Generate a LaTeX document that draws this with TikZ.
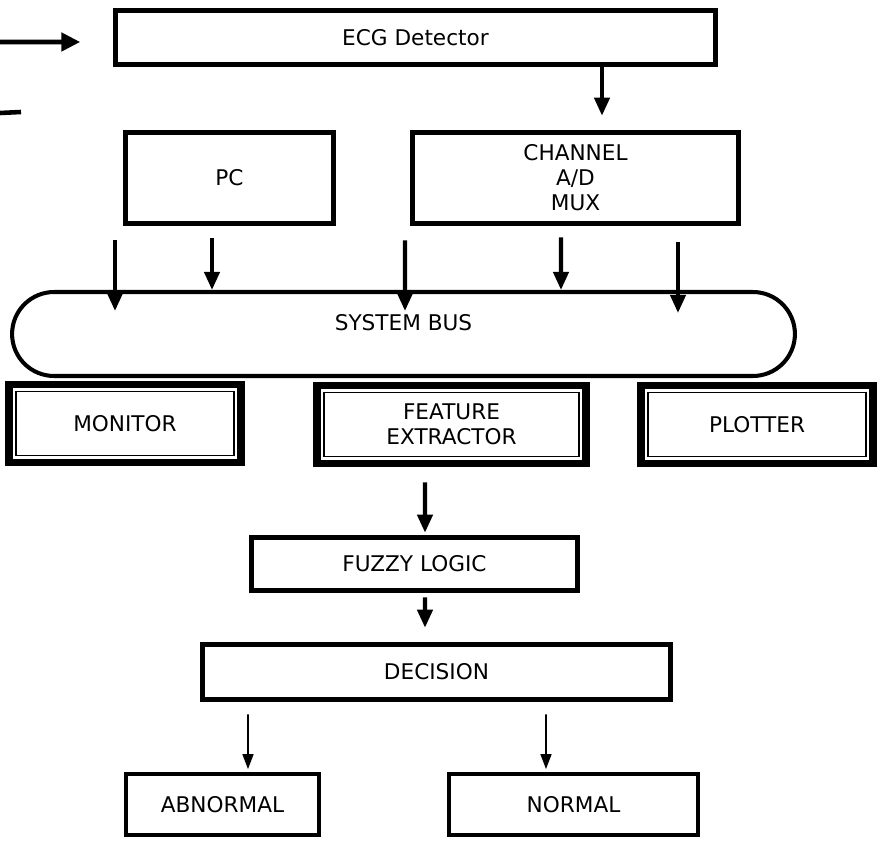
\documentclass[tikz,border=0pt]{standalone}
\usepackage{fontspec}
\setmainfont{DejaVu Sans}
\usetikzlibrary{arrows.meta,
                calc,
                positioning}

\begin{document}
\begin{tikzpicture}[
     x = 0.02cm, y = -0.02cm,
   box/.style = {rectangle, draw, line width=2.6pt, inner sep=0pt,
                 align=center, font=\fontsize{12.3}{14.2}\selectfont},
  fbox/.style = {box, line width=4.5pt,
                 minimum width=4.64cm, minimum height=1.56cm},
   bus/.style = {rectangle, draw, line width=2.3pt, rounded corners=0.84cm,
                 minimum width=15.66cm, minimum height=1.68cm},
   arr/.style = {line width=2.3pt, -{Triangle[length=0.36cm, width=0.3cm]}},
  tarr/.style = {line width=0.9pt, -{Triangle[length=0.3cm, width=0.22cm]}},
                        ]
\useasboundingbox (0,0) rectangle (883,841);
% top row
\node[box, minimum width=12cm, minimum height=1.08cm]   (ecg)  at (415.5,37.5) {ECG Detector};
\node[box, minimum width=4.16cm, minimum height=1.82cm] (pc)   at (229.5,178)  {PC};
\node[box, minimum width=6.52cm, minimum height=1.82cm] (adc)  at (575.5,178)  {CHANNEL\\A/D\\MUX};
% bus
\node[bus, label={[yshift=0.22cm, font=\fontsize{12.3}{14.2}\selectfont]center:SYSTEM BUS}]
      (sbus) at (403.5,334) {};
% devices on the bus
\node[fbox]                        (mon)  at (125,423.5)   {MONITOR};
\node[fbox, minimum width=5.38cm]  (feat) at (451.5,424.5) {FEATURE\\EXTRACTOR};
\node[fbox]                        (plot) at (757,424.5)   {PLOTTER};
\foreach \n in {mon,feat,plot}
    \draw[line width=0.8pt] ($(\n.south west)+(11,-11)$) rectangle ($(\n.north east)+(-11,11)$);
% classification
\node[box, minimum width=6.52cm, minimum height=1.06cm] (fuzzy) at (414.5,564)  {FUZZY LOGIC};
\node[box, minimum width=9.36cm, minimum height=1.1cm]  (dec)   at (436.5,672)  {DECISION};
\node[box, line width=2.2pt, minimum width=3.86cm, minimum height=1.22cm] (abn)  at (222.5,804.5) {ABNORMAL};
\node[box, line width=2.2pt, minimum width=4.98cm, minimum height=1.22cm] (norm) at (573.5,804.5) {NORMAL};

% arrows
\coordinate (src) at (0,42);
\draw[arr, line width=2.8pt, -{Triangle[length=0.38cm, width=0.36cm]}]
    (src) -- ($(ecg.west)+(-33,4.5)$);
\draw[line width=2.6pt] (0,113) -- (21,112);     % cut-off stroke at the left edge
\draw[arr] ($(ecg.south)+(186.5,0)$) -- ($(adc.north)+(26.5,-14.5)$);
\foreach \n/\dx/\dy/\bx/\by in {pc/-114.5/14.5/-288.5/21,
                                pc/-17.5/12.5/-191.5/0,
                                adc/-170.5/14.5/1.5/21,
                                adc/-14.5/11.5/157.5/0,
                                adc/102.5/16.5/274.5/23}
    \draw[arr] ($(\n.south)+(\dx,\dy)$) -- ($(sbus.north)+(\bx,\by)$);
\draw[arr] ($(feat.south)+(-26.5,15)$) -- ($(fuzzy.north)+(10.5,-2.5)$);
\draw[arr] ($(fuzzy.south)+(10.5,4.5)$) -- ($(dec.north)+(-11.5,-14.5)$);
\draw[tarr] ($(dec.south)+(-188.5,12.5)$) -- ($(abn.north)+(25.5,-3)$);
\draw[tarr] ($(dec.south)+(109.5,12.5)$)  -- ($(norm.north)+(-27.5,-3)$);
\end{tikzpicture}
\end{document}
